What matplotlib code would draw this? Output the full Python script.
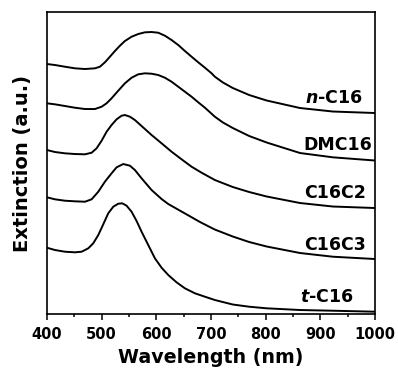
import matplotlib
matplotlib.use("Agg")
import matplotlib.pyplot as plt
from matplotlib.ticker import MultipleLocator

plt.rcParams['font.family'] = ['DejaVu Sans']
plt.rcParams['font.weight'] = 'bold'
plt.rcParams['mathtext.fontset'] = 'custom'
plt.rcParams['mathtext.it'] = 'DejaVu Sans:italic:bold'
plt.rcParams['mathtext.rm'] = 'DejaVu Sans:bold'

# extinction spectra, stacked with offsets (a.u.)
wl_n = [400, 414.6, 432.9, 451.2, 469.5, 487.8, 496.9, 506.0, 515.2, 524.3, 533.5, 542.6, 554.8,
        567.0, 579.2, 591.4, 603.6, 615.8, 628.0, 640.2, 652.4, 664.6, 676.8, 689.0, 701.2, 707.2,
        722, 740, 770, 802, 863, 923, 1000]
ext_n = [250, 249, 247.3, 245.7, 245, 245.7, 247.3, 251.7, 257.3, 263, 268.3, 273, 277.3,
         280, 281.7, 282, 281.3, 278.3, 274, 269, 263, 257.3, 251.7, 246.3, 240.7, 237.3,
         231.5, 226, 219, 213.5, 206, 202.5, 201]

wl_dmc = [400, 414.6, 432.9, 451.2, 469.5, 487.8, 500, 509.1, 518.2, 530.4, 542.6, 554.8, 567,
          579.2, 591.4, 603.6, 615.8, 628, 640.2, 652.4, 664.6, 676.8, 689, 707.2,
          722, 740, 770, 802, 863, 923, 1000]
ext_dmc = [210.7, 209.7, 208, 206.3, 205, 205, 207.3, 210.7, 215.7, 223.3, 230.7, 236.3, 239.7,
           240.7, 240.3, 239, 236.3, 232.3, 227.3, 222.3, 217.3, 211.7, 206.3, 197.3,
           191.5, 186, 178, 171.5, 161, 156.7, 153.5]

wl_c2 = [400, 414.6, 432.9, 451.2, 469.5, 481.7, 490.8, 500, 509.1, 518.2, 527.4, 536.5, 542.6,
         551.8, 560.9, 573.1, 591.4, 609.7, 628, 646.3, 664.6, 682.9, 707.2,
         740, 770, 802, 863, 923, 1000]
ext_c2 = [164, 162, 160.7, 160, 159.7, 161.3, 165.7, 173.3, 182.3, 189, 194.7, 198.3, 199,
          197.3, 194, 188, 179, 170.7, 162.3, 154.7, 147.3, 141.3, 134,
          127, 122, 117.5, 111, 107.5, 106]

wl_c3 = [400, 414.6, 432.9, 451.2, 469.5, 481.7, 493.9, 506, 518.2, 527.4, 539.6, 551.8, 560.9,
         573.1, 591.4, 609.7, 621.9, 652, 680, 707,
         740, 770, 802, 863, 923, 1000]
ext_c3 = [116.7, 114.7, 113.3, 112.7, 112.3, 114.7, 122.3, 132.3, 140.7, 146.7, 150, 148.3, 144,
          135.7, 124, 115, 110, 100.7, 92, 84.5,
          77.5, 72, 67.5, 61, 57.3, 55]

wl_t = [400, 414.6, 432.9, 451.2, 463.4, 475.6, 484.7, 493.9, 503, 512.1, 521.3, 530.4, 537.8,
        545.7, 554.8, 564, 573.1, 585.3, 597.5, 609.7, 621.9, 637.1, 652.4, 670.7, 689, 707.2,
        740, 770, 802, 863, 923, 1000]
ext_t = [66.3, 64, 62.3, 61.7, 62.3, 65.7, 70.7, 79, 89.7, 100.7, 107.3, 110.3, 110.7,
         108.3, 102.3, 93, 82.3, 69, 55.7, 46.3, 39, 31.7, 25.7, 20.7, 17.3, 14,
         9.5, 7.3, 5.7, 4, 3.3, 2.3]

curves = [(wl_n, ext_n), (wl_dmc, ext_dmc), (wl_c2, ext_c2), (wl_c3, ext_c3), (wl_t, ext_t)]
names = ['$n$-C16', 'DMC16', 'C16C2', 'C16C3', '$t$-C16']
label_x = [925, 932, 927, 927, 912]
label_y = [211, 164, 116, 64, 12]

fig = plt.figure(figsize=(3.98, 3.71), dpi=100)
ax = fig.add_axes([0.118, 0.1536, 0.824, 0.814])

for (wl, ext) in curves:
    ax.plot(wl, ext, color='black', lw=1.4, solid_joinstyle='round')

for name, lx, ly in zip(names, label_x, label_y):
    ax.text(lx, ly, name, ha='center', va='baseline', fontsize=12.5, fontweight='bold')

ax.set_xlim(400, 1000)
ax.set_ylim(0, 302)
ax.xaxis.set_major_locator(MultipleLocator(100))
ax.xaxis.set_minor_locator(MultipleLocator(50))
ax.set_yticks([])
ax.tick_params(axis='x', which='major', direction='out', length=4, width=1.1, labelsize=10.5, pad=5)
ax.tick_params(axis='x', which='minor', direction='out', length=2.5, width=1.1)
for sp in ax.spines.values():
    sp.set_linewidth(1.2)

ax.set_xlabel('Wavelength (nm)', fontsize=13.7, fontweight='bold', labelpad=4.5)
ax.set_ylabel('Extinction (a.u.)', fontsize=14, fontweight='bold', labelpad=11)

fig.savefig('out.png', dpi=100)
